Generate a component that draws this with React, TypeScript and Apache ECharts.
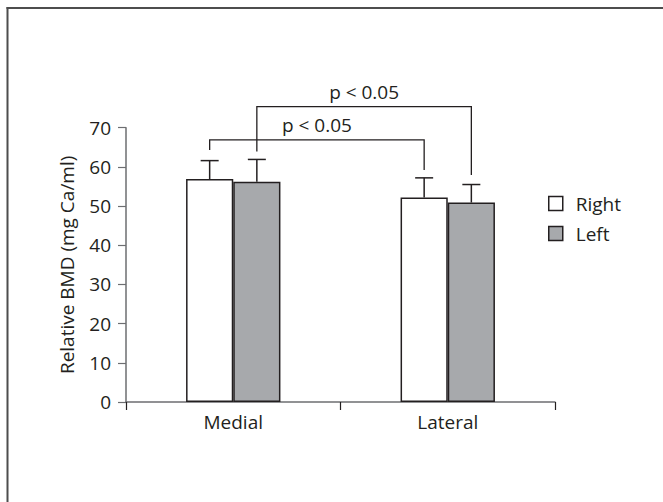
import React, { useEffect, useRef } from 'react';
import * as echarts from 'echarts';

const categories = ['Medial', 'Lateral'];
const seriesNames = ['Right', 'Left'];
const rightMeans = [56.9, 52.2];
const leftMeans = [56.2, 50.9];
const rightUpper = [61.6, 57.2];
const leftUpper = [61.9, 55.5];
const yMin = 0;
const yMax = 70;
const yInterval = 10;

const bracketLabels = ['p < 0.05', 'p < 0.05'];
// [category index, series index]
const bracketFrom = [[0, 0], [0, 1]];
const bracketTo = [[1, 0], [1, 1]];
const bracketTop = [66.9, 75.4];
const bracketLeftEnd = [64.3, 63.9];
const bracketRightEnd = [59.2, 57.9];

const FONT = '"Open Sans", "Noto Sans", sans-serif';
const FS = 19;
const TEXT = '#231f20';
const AXIS = '#6d6e71';
const BAR_FRAC = 0.22;

export default function App() {
  const ref = useRef<HTMLDivElement>(null);
  useEffect(() => {
    if (!ref.current) return;
    const chart = echarts.init(ref.current, undefined, { renderer: 'svg' });

    const errData: number[][] = [];
    categories.forEach((_, i) => {
      errData.push([i, 0, rightMeans[i], rightUpper[i]]);
      errData.push([i, 1, leftMeans[i], leftUpper[i]]);
    });
    const brData = bracketLabels.map((_, i) => [
      bracketFrom[i][0], bracketFrom[i][1], bracketTo[i][0], bracketTo[i][1],
      bracketTop[i], bracketLeftEnd[i], bracketRightEnd[i], i,
    ]);

    const xOf = (api: any, cat: number, s: number) => {
      const band = api.size([1, 0])[0];
      const c = api.coord([cat, 0])[0];
      return c + (s === 0 ? -1 : 1) * band * BAR_FRAC / 2;
    };
    const lineStyle = { stroke: '#231f20', lineWidth: 1.5 };

    chart.setOption({
      animation: false,
      backgroundColor: '#ffffff',
      textStyle: { fontFamily: FONT },
      graphic: [
        { type: 'line', shape: { x1: 6.5, y1: 8, x2: 663, y2: 8 }, style: { stroke: '#4d4d4d', lineWidth: 2 } },
        { type: 'line', shape: { x1: 7.5, y1: 7, x2: 7.5, y2: 502 }, style: { stroke: '#4d4d4d', lineWidth: 2 } },
      ],
      grid: { left: 126, right: 108, top: 127.7, bottom: 100 },
      legend: {
        orient: 'vertical',
        left: 548,
        top: 194,
        itemWidth: 14,
        itemHeight: 14,
        itemGap: 11,
        padding: 0,
        icon: 'rect',
        textStyle: { fontSize: FS, color: TEXT, fontFamily: FONT, padding: [0, 0, 0, 8] },
        data: [
          { name: 'Right', itemStyle: { color: '#ffffff', borderColor: '#231f20', borderWidth: 1.5 } },
          { name: 'Left', itemStyle: { color: '#a7a9ac', borderColor: '#231f20', borderWidth: 1.5 } },
        ],
      },
      xAxis: {
        type: 'category',
        data: categories,
        axisLine: { lineStyle: { color: AXIS, width: 1.5 } },
        axisTick: { show: true, length: 8, alignWithLabel: false, lineStyle: { color: '#231f20', width: 1.2 } },
        axisLabel: { fontSize: FS, color: TEXT, margin: 10, fontFamily: FONT },
      },
      yAxis: {
        type: 'value',
        min: yMin,
        max: yMax,
        interval: yInterval,
        name: 'Relative BMD (mg Ca/ml)',
        nameLocation: 'middle',
        nameGap: 50,
        nameTextStyle: { fontSize: FS, color: TEXT, fontFamily: FONT },
        splitLine: { show: false },
        axisLine: { show: true, lineStyle: { color: AXIS, width: 1.5 } },
        axisTick: { show: true, length: 8, lineStyle: { color: AXIS, width: 1.2 } },
        axisLabel: { fontSize: FS, color: TEXT, margin: 15, fontFamily: FONT },
      },
      series: [
        {
          name: seriesNames[0],
          type: 'bar',
          data: rightMeans,
          barWidth: `${BAR_FRAC * 100}%`,
          barGap: '0%',
          itemStyle: { color: '#ffffff', borderColor: '#231f20', borderWidth: 1.5 },
        },
        {
          name: seriesNames[1],
          type: 'bar',
          data: leftMeans,
          barWidth: `${BAR_FRAC * 100}%`,
          barGap: '0%',
          itemStyle: { color: '#a7a9ac', borderColor: '#231f20', borderWidth: 1.5 },
        },
        {
          name: 'errors',
          type: 'custom',
          clip: false,
          z: 5,
          data: errData,
          encode: { x: 0, y: [2, 3] },
          renderItem: (params: any, api: any) => {
            const cat = api.value(0);
            const s = api.value(1);
            const x = xOf(api, cat, s);
            const yb = api.coord([cat, api.value(2)])[1];
            const yt = api.coord([cat, api.value(3)])[1];
            return {
              type: 'group',
              children: [
                { type: 'line', shape: { x1: x, y1: yb, x2: x, y2: yt }, style: lineStyle },
                { type: 'line', shape: { x1: x - 9, y1: yt, x2: x + 9, y2: yt }, style: lineStyle },
              ],
            };
          },
        },
        {
          name: 'brackets',
          type: 'custom',
          clip: false,
          z: 5,
          data: brData,
          encode: { x: 0, y: 4 },
          renderItem: (params: any, api: any) => {
            const x1 = xOf(api, api.value(0), api.value(1));
            const x2 = xOf(api, api.value(2), api.value(3));
            const yTop = api.coord([0, api.value(4)])[1];
            const yL = api.coord([0, api.value(5)])[1];
            const yR = api.coord([0, api.value(6)])[1];
            const idx = api.value(7);
            return {
              type: 'group',
              children: [
                { type: 'polyline', shape: { points: [[x1, yL], [x1, yTop], [x2, yTop], [x2, yR]] }, style: { stroke: '#231f20', lineWidth: 1.3, fill: 'none' } },
                {
                  type: 'text',
                  x: (x1 + x2) / 2,
                  y: yTop - 15,
                  style: {
                    text: bracketLabels[idx],
                    fill: TEXT,
                    fontSize: FS,
                    fontFamily: FONT,
                    align: 'center',
                    verticalAlign: 'middle',
                  },
                },
              ],
            };
          },
        },
      ],
    });
    return () => chart.dispose();
  }, []);
  return <div ref={ref} style={{ position: 'fixed', left: 0, top: 0, width: 663, height: 502 }} />;
}
